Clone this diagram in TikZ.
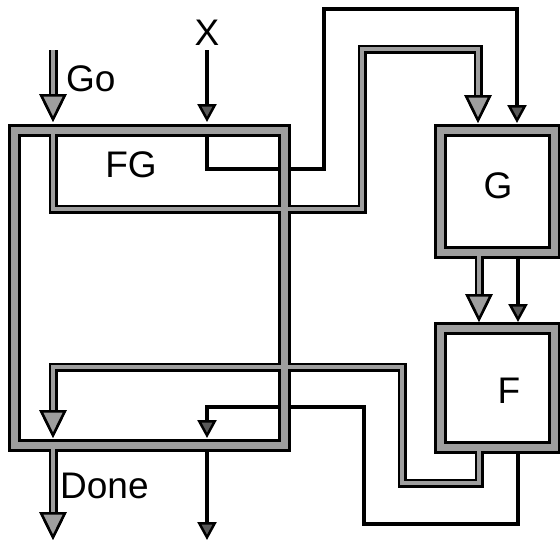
\documentclass[tikz,border=0pt]{standalone}
\usepackage{fontspec}
\setmainfont{Liberation Sans}
\usetikzlibrary{arrows.meta}
\definecolor{bandgray}{gray}{0.62}
\begin{document}
\begin{tikzpicture}[x=1pt,y=-1pt,
  boxblack/.style={draw=black, line width=13pt, inner sep=0pt, outer sep=0pt, rectangle},
  boxgray/.style={draw=bandgray, line width=7pt},
  busblack/.style={draw=black, line width=9pt,
    -{Triangle[width=27pt,length=28pt,line width=2.5pt,fill=bandgray,color=black]}},
  busgray/.style={draw=bandgray, line width=4pt,
    -{Triangle[width=27pt,length=28pt,line width=2.5pt,fill=bandgray,color=black]}},
  thinwire/.style={draw=black, line width=3.5pt,
    -{Triangle[width=19pt,length=18pt,line width=2.5pt,fill=black!65,color=black]}},
  lab/.style={font=\fontsize{37}{42}\selectfont, inner sep=0pt}]
\useasboundingbox (0,0) rectangle (560,542);

% boxes (black layer)
\node[boxblack, minimum width=270pt, minimum height=315pt] (FG) at (149,287.5) {};
\node[boxblack, minimum width=114pt, minimum height=122pt] (G) at (497,191) {};
\node[boxblack, minimum width=114pt, minimum height=119pt] (F) at (497,387.5) {};

% labels
\node[lab, anchor=base west] (lGo) at (66,91) {Go};
\node[lab, anchor=base] (lX) at (207,45) {X};
\node[lab, anchor=base] (lFG) at (131,177) {FG};
\node[lab, anchor=base] (lG) at (498,198) {G};
\node[lab, anchor=base] (lF) at (509,403) {F};
\node[lab, anchor=base west] (lDone) at (60,498) {Done};

% named points
\coordinate (goS) at (53,50);   \coordinate (goE) at (53,122);
\coordinate (xS) at (207,50);   \coordinate (xE) at (207,122);
\coordinate (a1) at (53,130);   \coordinate (a2) at (53,209);
\coordinate (a3) at (362,209);  \coordinate (a4) at (362,49);
\coordinate (a5) at (478,49);   \coordinate (a6) at (478,123);
\coordinate (b1) at (207,130);  \coordinate (b2) at (207,169);
\coordinate (b3) at (324,169);  \coordinate (b4) at (324,9);
\coordinate (b5) at (517,9);    \coordinate (b6) at (517,123);
\coordinate (c1) at (479,252);  \coordinate (c2) at (479,322);
\coordinate (d1) at (518,252);  \coordinate (d2) at (518,322);
\coordinate (e1) at (479,447);  \coordinate (e2) at (479,483);
\coordinate (e3) at (402,483);  \coordinate (e4) at (402,367);
\coordinate (e5) at (53,367);   \coordinate (e6) at (53,438);
\coordinate (f1) at (518,447);  \coordinate (f2) at (518,524);
\coordinate (f3) at (364,524);  \coordinate (f4) at (364,407);
\coordinate (f5) at (207,407);  \coordinate (f6) at (207,438);
\coordinate (g1) at (53,445);   \coordinate (g2) at (53,540);
\coordinate (h1) at (207,445);  \coordinate (h2) at (207,540);

% bus wires (black layer)
\foreach \s in {busblack}{
  \draw[\s] (goS) -- (goE);
  \draw[\s] (a1) -- (a2) -- (a3) -- (a4) -- (a5) -- (a6);
  \draw[\s] (c1) -- (c2);
  \draw[\s] (e1) -- (e2) -- (e3) -- (e4) -- (e5) -- (e6);
  \draw[\s] (g1) -- (g2);
}

% thin wires
\draw[thinwire] (xS) -- (xE);
\draw[thinwire] (b1) -- (b2) -- (b3) -- (b4) -- (b5) -- (b6);
\draw[thinwire] (d1) -- (d2);
\draw[thinwire] (f1) -- (f2) -- (f3) -- (f4) -- (f5) -- (f6);
\draw[thinwire] (h1) -- (h2);

% boxes (gray layer)
\draw[boxgray] (FG.north west) rectangle (FG.south east);
\draw[boxgray] (G.north west) rectangle (G.south east);
\draw[boxgray] (F.north west) rectangle (F.south east);

% bus wires (gray layer)
\foreach \s in {busgray}{
  \draw[\s] (goS) -- (goE);
  \draw[\s] (a1) -- (a2) -- (a3) -- (a4) -- (a5) -- (a6);
  \draw[\s] (c1) -- (c2);
  \draw[\s] (e1) -- (e2) -- (e3) -- (e4) -- (e5) -- (e6);
  \draw[\s] (g1) -- (g2);
}
\end{tikzpicture}
\end{document}
